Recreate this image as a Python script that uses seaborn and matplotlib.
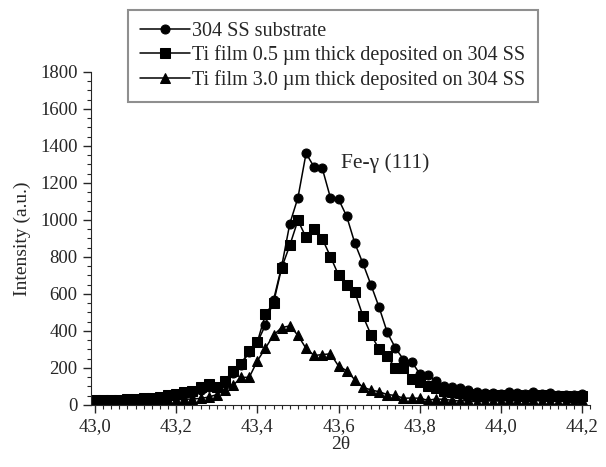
import numpy as np
import pandas as pd
import seaborn as sns
import matplotlib.pyplot as plt
from matplotlib.ticker import MultipleLocator, FuncFormatter

# 2-theta grid (deg) and intensities
two_theta = [43.00, 43.02, 43.04, 43.06, 43.08, 43.10, 43.12, 43.14, 43.16, 43.18,
             43.20, 43.22, 43.24, 43.26, 43.28, 43.30, 43.32, 43.34, 43.36, 43.38,
             43.40, 43.42, 43.44, 43.46, 43.48, 43.50, 43.52, 43.54, 43.56, 43.58,
             43.60, 43.62, 43.64, 43.66, 43.68, 43.70, 43.72, 43.74, 43.76, 43.78,
             43.80, 43.82, 43.84, 43.86, 43.88, 43.90, 43.92, 43.94, 43.96, 43.98,
             44.00, 44.02, 44.04, 44.06, 44.08, 44.10, 44.12, 44.14, 44.16, 44.18,
             44.20]

substrate = [20, 22, 22, 25, 28, 28, 32, 32, 35, 45,
             50, 60, 65, 80, 95, 90, 120, 170, 218, 285,
             338, 432, 568, 750, 980, 1120, 1360, 1285, 1278, 1120,
             1112, 1020, 875, 765, 648, 527, 392, 308, 245, 234,
             168, 162, 127, 100, 95, 90, 82, 72, 65, 63,
             59, 68, 63, 59, 68, 59, 63, 51, 51, 56,
             58]

ti_05 = [25, 25, 25, 27, 34, 30, 39, 39, 41, 56,
         59, 72, 77, 95, 114, 95, 131, 185, 223, 292,
         340, 490, 553, 742, 863, 998, 905, 949, 898, 802,
         702, 650, 611, 481, 379, 301, 262, 199, 198, 140,
         122, 100, 91, 76, 71, 66, 61, 56, 56, 51,
         51, 56, 51, 49, 53, 51, 46, 49, 46, 43,
         49]

ti_30 = [15, 15, 15, 15, 18, 18, 20, 20, 22, 25,
         28, 30, 32, 35, 42, 56, 81, 105, 149, 149,
         238, 307, 378, 418, 427, 376, 305, 267, 272, 276,
         210, 185, 136, 95, 81, 71, 56, 51, 36, 37,
         36, 25, 32, 30, 25, 20, 25, 15, 20, 22,
         20, 25, 20, 22, 25, 20, 22, 18, 20, 18,
         25]

names = ["304 SS substrate",
         "Ti film 0.5 \u00b5m thick deposited on 304 SS",
         "Ti film 3.0 \u00b5m thick deposited on 304 SS"]

df = pd.concat([
    pd.DataFrame({"2theta": two_theta, "intensity": substrate, "sample": names[0]}),
    pd.DataFrame({"2theta": two_theta, "intensity": ti_05, "sample": names[1]}),
    pd.DataFrame({"2theta": two_theta, "intensity": ti_30, "sample": names[2]}),
])

sns.set_style("ticks")
plt.rcParams["font.family"] = ["Liberation Serif", "DejaVu Serif"]

fig = plt.figure(figsize=(6.06, 4.67), dpi=100)
ax = fig.add_axes([0.150, 0.133, 0.824, 0.713])

sns.lineplot(data=df, x="2theta", y="intensity", hue="sample", style="sample",
             palette=["black"] * 3, markers={names[0]: "o", names[1]: "s", names[2]: "^"},
             dashes=False, markersize=6.5, markeredgecolor="black", linewidth=1.1,
             legend=True, ax=ax)

ax.set_xlim(42.99, 44.22)
ax.set_ylim(0, 1800)
ax.xaxis.set_major_locator(MultipleLocator(0.2))
ax.xaxis.set_minor_locator(MultipleLocator(0.02))
ax.yaxis.set_major_locator(MultipleLocator(200))
ax.yaxis.set_minor_locator(MultipleLocator(50))
ax.xaxis.set_major_formatter(FuncFormatter(lambda v, p: f"{v:.1f}".replace(".", ",")))
ax.tick_params(which="major", length=6, width=1, labelsize=13.5, direction="out")
ax.tick_params(which="minor", length=3, width=0.8, direction="out")
sns.despine(ax=ax)

ax.set_xlabel("2\u03b8", fontsize=14, labelpad=1)
ax.set_ylabel("Intensity (a.u.)", fontsize=14)
ax.yaxis.set_label_coords(-0.12, 0.5)

ax.text(43.605, 1280, "Fe-\u03b3 (111)", fontsize=15.5)

handles, labels = ax.get_legend_handles_labels()
ax.get_legend().remove()
leg = fig.legend(handles, labels, loc="upper left", bbox_to_anchor=(0.211, 0.979),
                 fontsize=14.5, frameon=True, fancybox=False, edgecolor="0.45",
                 handlelength=2.5, handletextpad=0.1, labelspacing=0.22,
                 borderpad=0.6, borderaxespad=0)
leg.get_frame().set_linewidth(1.5)

fig.savefig("out.png", dpi=100)
